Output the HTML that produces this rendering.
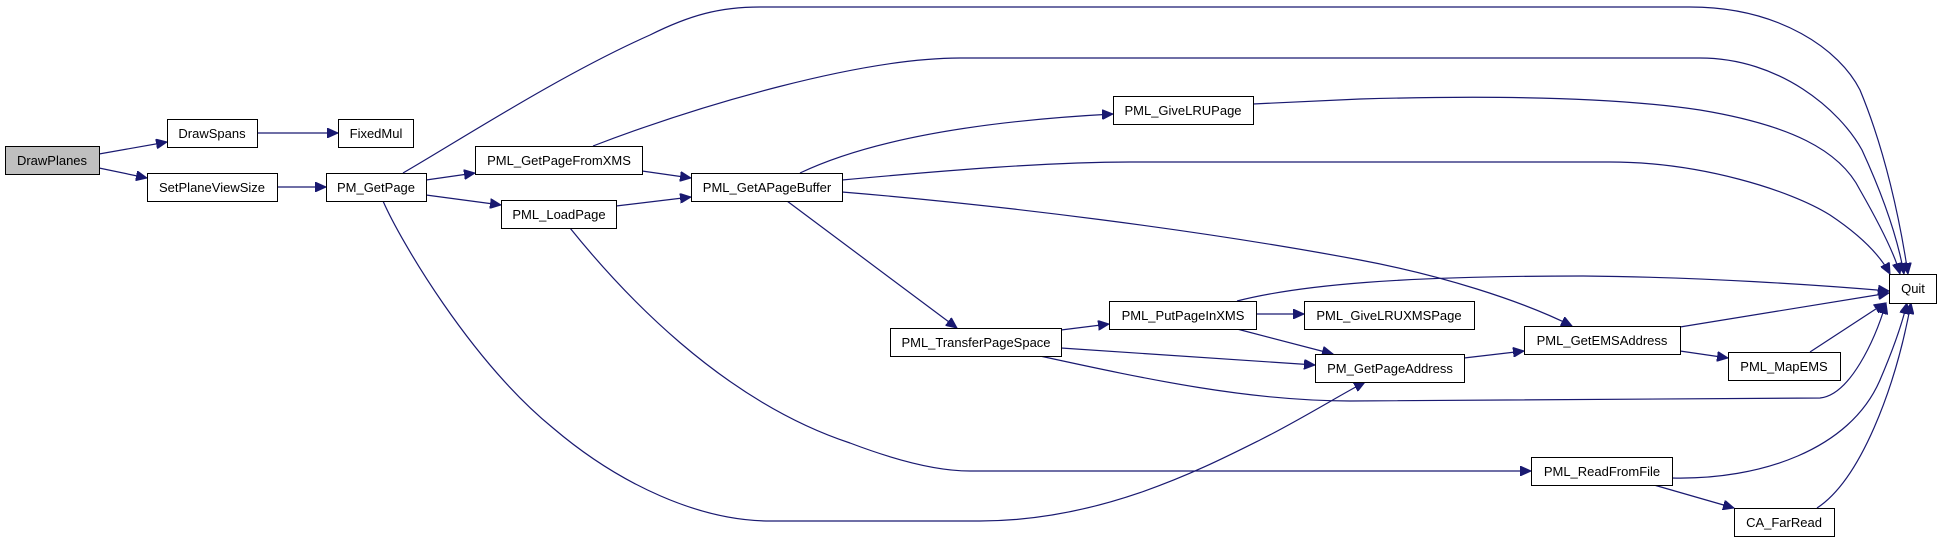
<!DOCTYPE html>
<html><head><meta charset="utf-8"><style>
html,body{margin:0;padding:0;background:#fff;}
svg{display:block;}
text{font-family:"Liberation Sans",Arial,sans-serif;font-size:13px;fill:#000;}
.n{fill:#fff;stroke:#000;stroke-width:1;}
.e{fill:none;stroke:#191970;stroke-width:1.2;}
</style></head><body>
<svg width="1939" height="542" viewBox="0 0 1939 542" xmlns="http://www.w3.org/2000/svg">
<defs>
<marker id="a" markerUnits="userSpaceOnUse" markerWidth="12" markerHeight="10" refX="11" refY="5" orient="auto">
<path d="M0,0 L11,5 L0,10 Z" fill="#191970" stroke="#191970"/>
</marker>
</defs>
<g class="e" marker-end="url(#a)">
<path d="M99,154 L167,142"/>
<path d="M99,168 L147,178"/>
<path d="M257,133 L338,133"/>
<path d="M277,187 L326,187"/>
<path d="M403,173 C460,140 560,75 650,35 C690,15 720,7 760,7 L1690,7 C1780,7 1840,50 1860,90 C1885,150 1900,220 1908,274"/>
<path d="M593,146 C700,105 860,58 960,58 L1700,58 C1780,58 1840,110 1862,150 C1885,200 1898,240 1904,274"/>
<path d="M1253,104 L1360,99 C1500,95 1620,98 1700,110 C1790,125 1840,150 1860,190 C1880,225 1895,255 1900,274"/>
<path d="M842,180 C950,170 1050,162 1130,162 L1610,162 C1700,162 1790,190 1830,215 C1860,235 1880,255 1890,274"/>
<path d="M800,173 C880,135 1000,120 1113,114"/>
<path d="M842,192 C1000,205 1200,230 1360,260 C1440,275 1520,300 1572,326"/>
<path d="M787,201 L957,328"/>
<path d="M642,171 L691,178"/>
<path d="M616,206 L691,197"/>
<path d="M426,180 L475,173"/>
<path d="M426,195 L501,205"/>
<path d="M383,201 C400,240 470,360 553,428 C620,485 700,521 770,521 L980,521 C1100,521 1200,470 1260,440 C1300,420 1340,395 1365,382"/>
<path d="M570,228 C620,290 720,400 850,443 C900,462 940,471 970,471 L1531,471"/>
<path d="M1061,330 L1109,324"/>
<path d="M1061,348 L1315,365"/>
<path d="M1040,356 C1150,380 1250,401 1350,401 L1820,398 C1850,395 1875,340 1886,303"/>
<path d="M1237,301 C1300,285 1400,276 1583,276 C1700,277 1820,285 1889,291"/>
<path d="M1256,314 L1304,314"/>
<path d="M1237,329 L1333,354"/>
<path d="M1464,358 L1524,351"/>
<path d="M1680,327 L1889,293"/>
<path d="M1680,351 L1728,358"/>
<path d="M1810,352 L1885,303"/>
<path d="M1672,478 C1760,480 1850,450 1880,380 C1895,345 1903,320 1907,303"/>
<path d="M1654,485 L1734,508"/>
<path d="M1817,508 C1860,480 1895,390 1911,303"/>
</g>
<g>
<rect class="n" x="5.5" y="146.5" width="94" height="28" style="fill:#bfbfbf"/>
<text x="52" y="165" text-anchor="middle">DrawPlanes</text>
<rect class="n" x="167.5" y="119.5" width="90" height="28"/>
<text x="212" y="138" text-anchor="middle">DrawSpans</text>
<rect class="n" x="338.5" y="119.5" width="75" height="28"/>
<text x="376" y="138" text-anchor="middle">FixedMul</text>
<rect class="n" x="147.5" y="173.5" width="130" height="28"/>
<text x="212" y="192" text-anchor="middle">SetPlaneViewSize</text>
<rect class="n" x="326.5" y="173.5" width="100" height="28"/>
<text x="376" y="192" text-anchor="middle">PM_GetPage</text>
<rect class="n" x="475.5" y="146.5" width="167" height="28"/>
<text x="559" y="165" text-anchor="middle">PML_GetPageFromXMS</text>
<rect class="n" x="501.5" y="200.5" width="115" height="28"/>
<text x="559" y="219" text-anchor="middle">PML_LoadPage</text>
<rect class="n" x="691.5" y="173.5" width="151" height="28"/>
<text x="767" y="192" text-anchor="middle">PML_GetAPageBuffer</text>
<rect class="n" x="1113.5" y="96.5" width="140" height="28"/>
<text x="1183" y="115" text-anchor="middle">PML_GiveLRUPage</text>
<rect class="n" x="890.5" y="328.5" width="171" height="28"/>
<text x="976" y="347" text-anchor="middle">PML_TransferPageSpace</text>
<rect class="n" x="1109.5" y="301.5" width="147" height="28"/>
<text x="1183" y="320" text-anchor="middle">PML_PutPageInXMS</text>
<rect class="n" x="1304.5" y="301.5" width="170" height="28"/>
<text x="1389" y="320" text-anchor="middle">PML_GiveLRUXMSPage</text>
<rect class="n" x="1315.5" y="354.5" width="149" height="28"/>
<text x="1390" y="373" text-anchor="middle">PM_GetPageAddress</text>
<rect class="n" x="1524.5" y="326.5" width="156" height="28"/>
<text x="1602" y="345" text-anchor="middle">PML_GetEMSAddress</text>
<rect class="n" x="1728.5" y="352.5" width="112" height="28"/>
<text x="1784" y="371" text-anchor="middle">PML_MapEMS</text>
<rect class="n" x="1889.5" y="274.5" width="47" height="29"/>
<text x="1913" y="293" text-anchor="middle">Quit</text>
<rect class="n" x="1531.5" y="457.5" width="141" height="28"/>
<text x="1602" y="476" text-anchor="middle">PML_ReadFromFile</text>
<rect class="n" x="1734.5" y="508.5" width="100" height="28"/>
<text x="1784" y="527" text-anchor="middle">CA_FarRead</text>
</g>
</svg>
</body></html>
